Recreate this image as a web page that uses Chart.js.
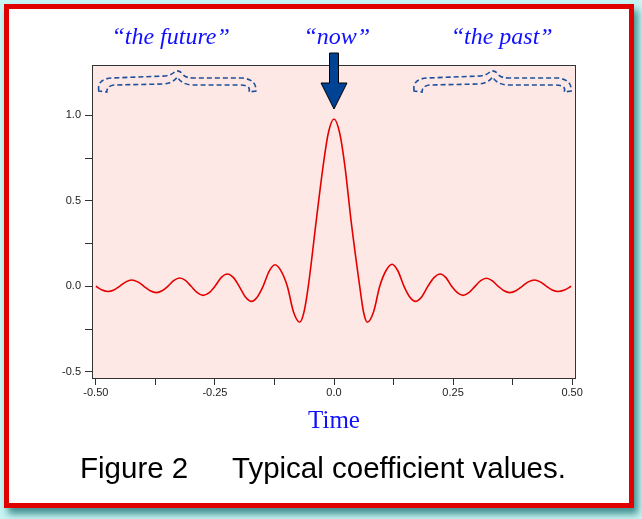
<!DOCTYPE html>
<html>
<head>
<meta charset="utf-8">
<script src="https://cdn.jsdelivr.net/npm/chart.js@4.4.1/dist/chart.umd.min.js"></script>
<style>
  html, body { margin: 0; padding: 0; background: #c8f4f4; }
  canvas { display: block; }
</style>
</head>
<body>
<canvas id="grafico" width="642" height="519"></canvas>
<script>
// Valores (tiempo, coeficiente)
const tiempos = [
  -0.500, -0.487, -0.474, -0.462, -0.450, -0.437, -0.425, -0.412, -0.399, -0.386,
  -0.373, -0.361, -0.349, -0.336, -0.324, -0.312, -0.300, -0.287, -0.275, -0.262,
  -0.250, -0.237, -0.224, -0.211, -0.199, -0.186, -0.173, -0.161, -0.149, -0.136,
  -0.124, -0.111, -0.098, -0.085, -0.072, -0.063, -0.054, -0.037, -0.023, -0.012,
  0.000,
  0.012, 0.023, 0.036, 0.054, 0.062, 0.070, 0.083, 0.096, 0.109, 0.122,
  0.134, 0.147, 0.159, 0.171, 0.184, 0.197, 0.210, 0.223, 0.235, 0.247,
  0.259, 0.271, 0.283, 0.296, 0.308, 0.320, 0.332, 0.345, 0.357, 0.369,
  0.382, 0.395, 0.408, 0.421, 0.433, 0.446, 0.458, 0.470, 0.484, 0.498,
];
const coeficientes = [
  0.000, -0.021, -0.030, -0.021, 0.000, 0.026, 0.037, 0.026, 0.000, -0.026,
  -0.037, -0.026, 0.000, 0.035, 0.049, 0.035, 0.000, -0.037, -0.053, -0.037,
  0.000, 0.051, 0.072, 0.051, 0.000, -0.062, -0.088, -0.062, 0.000, 0.089,
  0.126, 0.089, 0.000, -0.150, -0.210, -0.150, 0.000, 0.390, 0.700, 0.895,
  0.978,
  0.895, 0.700, 0.380, 0.000, -0.150, -0.210, -0.150, 0.000, 0.091, 0.129,
  0.091, 0.000, -0.062, -0.088, -0.062, 0.000, 0.051, 0.072, 0.051, 0.000,
  -0.037, -0.053, -0.037, 0.000, 0.033, 0.047, 0.033, 0.000, -0.026, -0.037,
  -0.026, 0.000, 0.026, 0.037, 0.026, 0.000, -0.021, -0.030, -0.021, 0.000,
];

// Ejes
const xTicks = [-0.5, -0.375, -0.25, -0.125, 0, 0.125, 0.25, 0.375, 0.5];
const xTickLabels = ["-0.50", "", "-0.25", "", "0.0", "", "0.25", "", "0.50"];
const yTicks = [-0.5, -0.25, 0, 0.25, 0.5, 0.75, 1.0];
const yTickLabels = ["-0.5", "", "0.0", "", "0.5", "", "1.0"];

// Anotaciones sobre el gráfico
const etiquetas = ["\u201Cthe future\u201D", "\u201Cnow\u201D", "\u201Cthe past\u201D"];
const etiquetasX = [-0.343, 0.006, 0.352];
const llaves = [[-0.496, -0.162], [0.166, 0.500]];
const tituloEje = "Time";
const pie = ["Figure 2", "Typical coefficient values."];

const AZUL_TEXTO = "#1010ff";
const AZUL_FLECHA = "#004394";

function dibujarLlave(ctx, x0, x1, yt, yb) {
  const xm = (x0 + x1) / 2;
  ctx.beginPath();
  // contorno exterior
  ctx.moveTo(x0 + 1, yb - 1);
  ctx.quadraticCurveTo(x0 - 1, yt + 8, x0 + 14, yt + 7);
  ctx.lineTo(xm - 12, yt + 5);
  ctx.quadraticCurveTo(xm - 5, yt + 4, xm - 2, yt);
  ctx.quadraticCurveTo(xm + 3, yt - 1, xm + 6, yt + 4);
  ctx.quadraticCurveTo(xm + 9, yt + 7, xm + 16, yt + 7);
  ctx.lineTo(x1 - 14, yt + 7);
  ctx.quadraticCurveTo(x1, yt + 9, x1 - 1, yb - 1);
  // punta derecha y contorno interior
  ctx.lineTo(x1 - 8, yb);
  ctx.quadraticCurveTo(x1 - 5, yt + 14, x1 - 18, yt + 14);
  ctx.lineTo(xm + 14, yt + 14);
  ctx.quadraticCurveTo(xm + 4, yt + 13, xm, yt + 6);
  ctx.quadraticCurveTo(xm - 4, yt + 12, xm - 14, yt + 13);
  ctx.lineTo(x0 + 16, yt + 14);
  ctx.quadraticCurveTo(x0 + 9, yt + 15, x0 + 9, yb);
  ctx.closePath();
  ctx.stroke();
}

const marcoPlugin = {
  id: "marco",
  beforeDraw(chart) {
    const ctx = chart.ctx;
    const a = chart.chartArea;
    ctx.save();
    ctx.fillStyle = "#c8f4f4";
    ctx.fillRect(0, 0, chart.width, chart.height);
    // sombra del marco
    ctx.shadowColor = "rgba(20,110,110,0.75)";
    ctx.shadowBlur = 7;
    ctx.shadowOffsetX = 4;
    ctx.shadowOffsetY = 6;
    ctx.fillStyle = "#e00000";
    ctx.fillRect(4, 4, 630, 504);
    ctx.shadowColor = "transparent";
    ctx.fillStyle = "#ffffff";
    ctx.fillRect(9, 9, 620, 494);
    // fondo del área de trazado
    ctx.fillStyle = "#fee8e5";
    ctx.fillRect(a.left, a.top, a.right - a.left, a.bottom - a.top);
    ctx.restore();
  },
  afterDraw(chart) {
    const ctx = chart.ctx;
    const a = chart.chartArea;
    const sx = chart.scales.x;
    ctx.save();
    ctx.strokeStyle = "#333333";
    ctx.lineWidth = 1;
    ctx.strokeRect(a.left - 0.5, a.top - 0.5, a.right - a.left + 1, a.bottom - a.top + 1);

    // llaves discontinuas
    ctx.strokeStyle = "#1c4f9c";
    ctx.lineWidth = 1.6;
    ctx.setLineDash([5, 3]);
    llaves.forEach(([t0, t1]) => {
      dibujarLlave(ctx, sx.getPixelForValue(t0), sx.getPixelForValue(t1), 71, 92);
    });
    ctx.setLineDash([]);

    // flecha de "now"
    const xc = sx.getPixelForValue(0);
    ctx.beginPath();
    ctx.moveTo(xc - 4.5, 53);
    ctx.lineTo(xc + 4.5, 53);
    ctx.lineTo(xc + 4.5, 83);
    ctx.lineTo(xc + 13, 83);
    ctx.lineTo(xc, 109);
    ctx.lineTo(xc - 13, 83);
    ctx.lineTo(xc - 4.5, 83);
    ctx.closePath();
    ctx.fillStyle = AZUL_FLECHA;
    ctx.fill();
    ctx.strokeStyle = "#000000";
    ctx.lineWidth = 1;
    ctx.stroke();

    // textos
    ctx.fillStyle = AZUL_TEXTO;
    ctx.textAlign = "center";
    ctx.textBaseline = "alphabetic";
    ctx.font = "italic 24px 'Liberation Serif'";
    etiquetas.forEach((txt, i) => {
      ctx.fillText(txt, sx.getPixelForValue(etiquetasX[i]), 44);
    });
    ctx.font = "25px 'Liberation Serif'";
    ctx.fillText(tituloEje, xc, 428);

    ctx.fillStyle = "#000000";
    ctx.textAlign = "left";
    ctx.font = "29.5px 'Liberation Sans'";
    ctx.fillText(pie[0], 80, 478);
    ctx.fillText(pie[1], 232, 478);
    ctx.restore();
  },
};

new Chart(document.getElementById("grafico").getContext("2d"), {
  type: "line",
  data: {
    datasets: [
      {
        data: tiempos.map((t, i) => ({ x: t, y: coeficientes[i] })),
        borderColor: "#e50000",
        borderWidth: 1.6,
        pointRadius: 0,
        fill: false,
        cubicInterpolationMode: "monotone",
      },
    ],
  },
  options: {
    responsive: false,
    animation: false,
    layout: { padding: { left: 0, top: 66, right: 67, bottom: 111 } },
    plugins: { legend: { display: false }, tooltip: { enabled: false } },
    scales: {
      x: {
        type: "linear",
        min: -0.506,
        max: 0.506,
        afterBuildTicks: (s) => { s.ticks = xTicks.map((v) => ({ value: v })); },
        afterFit: (s) => { s.height = 30; },
        grid: { drawOnChartArea: false, drawTicks: true, tickLength: 7, color: "#333333" },
        border: { display: false },
        ticks: {
          autoSkip: false,
          maxRotation: 0,
          padding: 1,
          color: "#222222",
          font: { family: "'Liberation Sans'", size: 11 },
          callback: (v, i) => xTickLabels[i],
        },
      },
      y: {
        min: -0.536,
        max: 1.288,
        afterBuildTicks: (s) => { s.ticks = yTicks.map((v) => ({ value: v })); },
        afterFit: (s) => { s.width = 93; },
        grid: { drawOnChartArea: false, drawTicks: true, tickLength: 8, color: "#333333" },
        border: { display: false },
        ticks: {
          autoSkip: false,
          padding: 4,
          color: "#222222",
          font: { family: "'Liberation Sans'", size: 11 },
          callback: (v, i) => yTickLabels[i],
        },
      },
    },
  },
  plugins: [marcoPlugin],
});
</script>
</body>
</html>
